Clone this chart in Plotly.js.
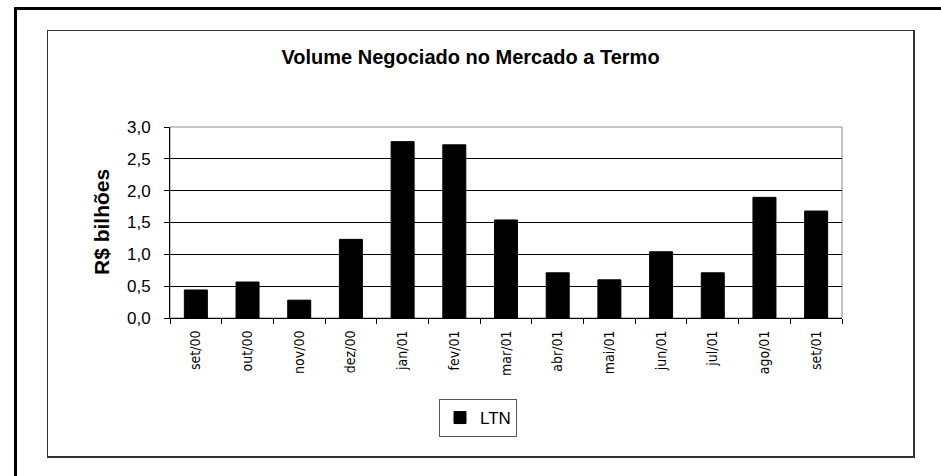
<!DOCTYPE html>
<html>
<head>
<meta charset="utf-8">
<script src="https://cdn.plot.ly/plotly-3.0.1.min.js"></script>
<style>
  body { margin: 0; background: #fff; }
  #wrap { position: relative; width: 941px; height: 476px; overflow: hidden; }
  #chart { position: absolute; left: 0; top: 0; width: 941px; height: 476px; }
  .frame { position: absolute; pointer-events: none; box-sizing: border-box; }
  #outer { left: 14px; top: 7px; width: 927px; height: 469px; border-top: 3px solid #000; border-left: 3px solid #000; }
  #inner { left: 47px; top: 30px; width: 868px; height: 428px; border: 1px solid #333; border-width: 1px 2px 2px 1px; }
</style>
</head>
<body>
<div id="wrap">
  <div id="chart"></div>
  <div class="frame" id="outer"></div>
  <div class="frame" id="inner"></div>
</div>
<script>
const months = ['set/00', 'out/00', 'nov/00', 'dez/00', 'jan/01', 'fev/01', 'mar/01',
                'abr/01', 'mai/01', 'jun/01', 'jul/01', 'ago/01', 'set/01'];
const ltnValues = [0.44, 0.565, 0.28, 1.235, 2.77, 2.72, 1.54, 0.71, 0.60, 1.04, 0.71, 1.895, 1.68];
const yTicks = [0, 0.5, 1, 1.5, 2, 2.5, 3];

const sans = '"Liberation Sans", Arial, sans-serif';
const narrow = '"Liberation Sans Narrow", "Arial Narrow", "DejaVu Sans Condensed", sans-serif';

const trace = {
    x: months,
    y: ltnValues,
    type: 'bar',
    name: 'LTN',
    marker: { color: '#000', line: { color: '#000', width: 1 } }
};

const layout = {
    width: 941,
    height: 476,
    margin: { l: 170, r: 99, t: 127, b: 158 },
    paper_bgcolor: 'rgba(0,0,0,0)',
    plot_bgcolor: '#fff',
    separators: ',.',
    bargap: 0.555,
    font: { family: sans, color: '#000' },
    title: {
        text: '<b>Volume Negociado no Mercado a Termo</b>',
        font: { family: sans, size: 20, color: '#000' },
        xref: 'container', x: 0.5, xanchor: 'center',
        yref: 'container', y: 1 - 57 / 476, yanchor: 'middle'
    },
    xaxis: {
        type: 'category',
        tickangle: -90,
        ticks: 'outside',
        tickson: 'boundaries',
        ticklen: 5,
        tickcolor: '#000',
        ticklabelstandoff: 6,
        showline: true,
        linecolor: '#000',
        linewidth: 1,
        showgrid: false,
        tickfont: { family: narrow, size: 14, color: '#000' }
    },
    yaxis: {
        range: [0, 3],
        tickvals: yTicks,
        tickformat: '.1f',
        ticks: 'outside',
        ticklen: 5,
        tickcolor: '#000',
        ticklabelstandoff: 10,
        showline: true,
        linecolor: '#000',
        linewidth: 1,
        showgrid: true,
        gridcolor: '#000',
        gridwidth: 1,
        zeroline: false,
        tickfont: { family: sans, size: 17, color: '#000' }
    },
    shapes: [{
        type: 'rect', xref: 'paper', yref: 'paper', x0: 0, x1: 1, y0: 0, y1: 1,
        line: { color: '#888', width: 1 }, layer: 'below'
    }],
    annotations: [{
        text: '<b>R$ bilhões</b>',
        xref: 'paper', yref: 'paper',
        x: (88 - 170) / 672, y: 0.5,
        textangle: -90,
        showarrow: false,
        font: { family: sans, size: 21, color: '#000' }
    }],
    showlegend: true,
    legend: {
        x: (478 - 170) / 672, xanchor: 'center',
        y: (318 - 399) / 191, yanchor: 'top',
        bordercolor: '#555', borderwidth: 1,
        bgcolor: '#fff',
        font: { family: sans, size: 17, color: '#000' },
        itemwidth: 30
    }
};

Plotly.newPlot('chart', [trace], layout, { displayModeBar: false, staticPlot: true });
</script>
</body>
</html>
